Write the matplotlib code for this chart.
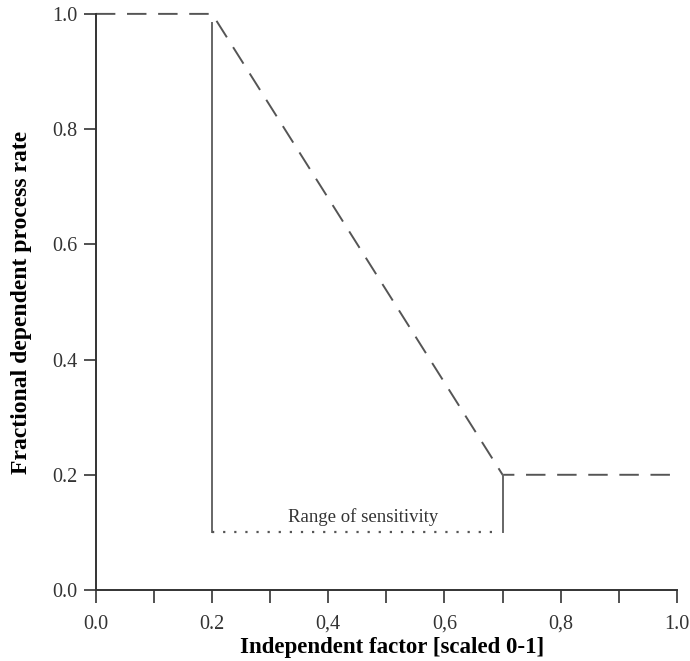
import numpy as np
import matplotlib
matplotlib.use('Agg')
import matplotlib.pyplot as plt

# response curve (dashed)
curve_x = [0.0, 0.2, 0.7, 1.0]
curve_y = [1.0, 1.0, 0.2, 0.2]

# range of sensitivity markers
range_lo = 0.2
range_hi = 0.7
range_y = 0.1
lo_top = 0.985
hi_top = 0.2

ticks = [0.0, 0.2, 0.4, 0.6, 0.8, 1.0]
tick_labels = ['0.0', '0.2', '0.4', '0.6', '0.8', '1.0']
x_tick_labels = ['0.0', '0.2', '0,4', '0,6', '0,8', '1.0']

plt.rcParams['font.family'] = ['Liberation Serif', 'DejaVu Serif']

fig = plt.figure(figsize=(6.9, 6.61), dpi=100)
ax = fig.add_axes([0.139, 0.1074, 0.842, 0.8716])

gray = '#555555'
ax.plot(curve_x, curve_y, color=gray, lw=1.4, dashes=(10, 6), clip_on=False)
ax.plot([range_lo, range_lo], [range_y, lo_top], color='#666666', lw=1.4, clip_on=False)
ax.plot([range_hi, range_hi], [range_y, hi_top], color='#666666', lw=1.4, clip_on=False)
ax.plot([range_lo, range_hi - 0.005], [range_y, range_y], color=gray, lw=1.6,
        linestyle=(0, (1, 4)), clip_on=False)
ax.text(0.46, 0.118, 'Range of sensitivity', ha='center', va='baseline',
        fontsize=13.5, color='#333333')

ax.set_xlim(0, 1)
ax.set_ylim(0, 1)
ax.spines['top'].set_visible(False)
ax.spines['right'].set_visible(False)
for s in ['left', 'bottom']:
    ax.spines[s].set_color('#333333')
    ax.spines[s].set_linewidth(1.4)

ax.set_xticks(ticks)
ax.set_xticklabels(x_tick_labels)
ax.set_xticks(np.arange(0.1, 1.0, 0.2), minor=True)
ax.set_yticks(ticks)
ax.set_yticklabels(tick_labels)
ax.tick_params(axis='x', which='both', direction='out', length=9, width=1.2,
               colors='#333333', labelsize=14.5, pad=9)
ax.tick_params(axis='y', direction='out', length=9, width=1.2,
               colors='#333333', labelsize=14.5, pad=4)

ax.set_xlabel('Independent factor [scaled 0-1]', fontsize=16.5, fontweight='bold')
ax.xaxis.set_label_coords(0.51, -0.081)
ax.set_ylabel('Fractional dependent process rate', fontsize=17, fontweight='bold',
              labelpad=15)

fig.savefig('out.png', dpi=100)
